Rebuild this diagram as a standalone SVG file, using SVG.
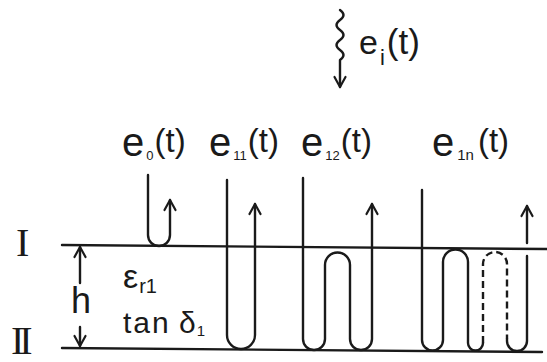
<svg xmlns="http://www.w3.org/2000/svg" width="547" height="362" viewBox="0 0 547 362">
<defs>
<style>
.ln{fill:none;stroke:#1a1a1a;stroke-width:2.4;stroke-linecap:round;stroke-linejoin:round}
.dash{stroke-dasharray:7 4;stroke-linecap:butt}
.t{font-family:"Liberation Sans","Open Sans",sans-serif;fill:#1a1a1a}
.big{font-size:40px}
.par{font-size:33px}
.sub{font-size:13px}
.rom{font-family:"Liberation Serif","DejaVu Serif",serif;font-size:40px;fill:#1a1a1a}
</style>
<marker id="ah" markerUnits="userSpaceOnUse" markerWidth="14" markerHeight="14" refX="11" refY="6" orient="auto" overflow="visible">
<path d="M1,0.5 L11,6 L1,11.5" fill="none" stroke="#1a1a1a" stroke-width="2.2" stroke-linecap="round" stroke-linejoin="round"/>
</marker>
</defs>
<rect width="547" height="362" fill="#fff"/>

<g id="layers">
<line class="ln" x1="62" y1="245" x2="547" y2="249"/>
<line class="ln" x1="62" y1="348" x2="542" y2="352"/>
<text class="rom" x="16" y="256">I</text>
<text class="rom" x="11" y="354" letter-spacing="-5">II</text>
</g>

<g id="thickness">
<text class="t" x="71" y="313" font-size="36">h</text>
<text class="t" x="123" y="288" font-size="34">ε<tspan font-size="20" dx="1" dy="5">r1</tspan></text>
<text class="t" x="123" y="333" font-size="30" letter-spacing="2">tan</text>
<text class="t" x="179" y="333" font-size="30">δ<tspan font-size="15" dx="1" dy="3">1</tspan></text>
</g>

<g id="incident">
<path class="ln" d="M340,10 q7,5 0,10 q-7,5 0,10 q7,5 0,10 q-7,5 0,10 q7,5 0,10 L340,87" marker-end="url(#ah)"/>
<text class="t" x="359" y="54" font-size="34">e<tspan font-size="22" dx="2" dy="11">i</tspan><tspan dx="2" dy="-11" font-size="35">(t)</tspan></text>
</g>

<g id="probe0">
<text class="t" x="122" y="156"><tspan class="big">e</tspan><tspan class="sub" dx="2" dy="4">0</tspan><tspan class="par" dx="1" dy="-8">(t)</tspan></text>
<path class="ln" d="M148,175 L148,235 A11,11 0 0 0 170,235 L170,200" marker-end="url(#ah)"/>
</g>

<g id="probe11">
<text class="t" x="209" y="156"><tspan class="big">e</tspan><tspan class="sub" dx="2" dy="4">11</tspan><tspan class="par" dx="1" dy="-8">(t)</tspan></text>
<path class="ln" d="M227,180 L227,335 A14,14 0 0 0 255,335 L255,204" marker-end="url(#ah)"/>
</g>

<g id="probe12">
<text class="t" x="301" y="156"><tspan class="big">e</tspan><tspan class="sub" dx="2" dy="4">12</tspan><tspan class="par" dx="1" dy="-8">(t)</tspan></text>
<path class="ln" d="M303,178 L303,339 A11,11 0 0 0 325,339 L325,265 A12.5,12.5 0 0 1 350,265 L350,339 A11,11 0 0 0 372,339 L372,204" marker-end="url(#ah)"/>
</g>

<g id="probe1n">
<text class="t" x="432" y="156"><tspan class="big">e</tspan><tspan font-size="15" dx="3" dy="4">1n</tspan><tspan class="par" dx="4" dy="-8">(t)</tspan></text>
<path class="ln" d="M422,190 L422,340 A10.5,10.5 0 0 0 443,340 L443,262 A12.5,12.5 0 0 1 468,262 L468,343 A7.5,7.5 0 0 0 483,343"/>
<path class="ln dash" d="M483,343 L483,264 A12,12 0 0 1 507,264 L507,339"/>
<path class="ln" d="M507,339 L507,341 A10,10 0 0 0 527,341 L527,256"/>
<path class="ln" d="M527,243 L527,206" marker-end="url(#ah)"/>
</g>

<g id="connectors">
<path class="ln" d="M80,283 L80,247" marker-end="url(#ah)"/>
<path class="ln" d="M80,327 L80,346" marker-end="url(#ah)"/>
</g>
</svg>
